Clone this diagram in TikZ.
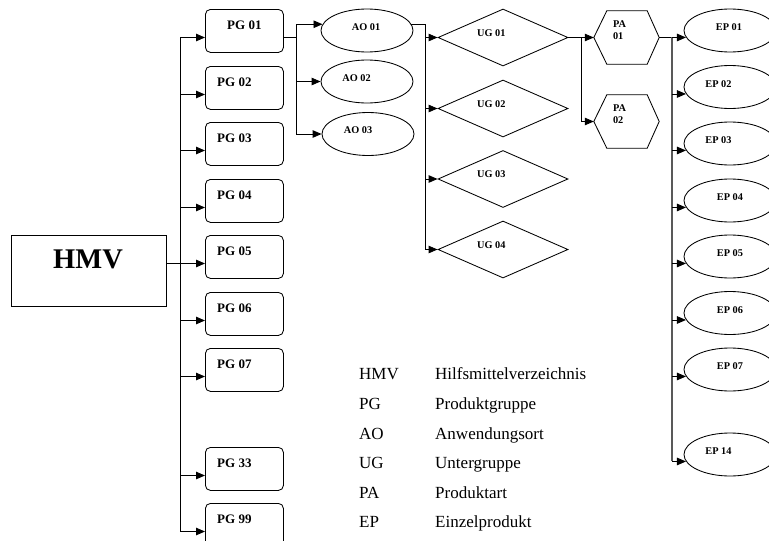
\documentclass[tikz,border=0pt]{standalone}
\usepackage{fontspec}
\setmainfont{Liberation Serif}
\usetikzlibrary{arrows.meta,calc,shapes.geometric}
\begin{document}
\begin{tikzpicture}[x=1pt,y=-1pt,
  line/.style={draw=black,line width=0.85pt},
  arr/.style={line,-{Triangle[length=9pt,width=7.5pt]}},
  pgbox/.style={draw,line width=0.85pt,rounded corners=5pt,minimum width=78pt,minimum height=43pt,inner sep=0pt,anchor=north west},
  oval/.style={draw,ellipse,line width=0.85pt,minimum width=92pt,minimum height=43pt,inner sep=0pt},
  ugdia/.style={draw,diamond,line width=0.85pt,minimum width=130pt,minimum height=57pt,inner sep=0pt},
  hexbox/.style={minimum width=65pt,minimum height=53pt,inner sep=0pt},
  pglab/.style={font=\fontsize{13}{15}\selectfont\bfseries,inner sep=0pt},
  smlab/.style={font=\fontsize{10.3}{11.3}\selectfont\bfseries,inner sep=0pt},
  leg/.style={font=\fontsize{17}{20}\selectfont,inner sep=0pt,anchor=base west},
]
\clip (0,0) rectangle (769,541);

% HMV
\node[draw,line width=0.85pt,minimum width=155pt,minimum height=71pt,inner sep=0pt,anchor=north west] (hmv) at (11,235) {};
\node[font=\fontsize{28.5}{30}\selectfont\bfseries,inner sep=0pt,anchor=base] (hmvt) at (88,268.3) {HMV};

% PG boxes
\foreach \i/\t/\top/\dx in {1/01/9/22,2/02/66/12,3/03/122/12,4/04/179/12,5/05/235/12,6/06/292/12,7/07/348/12,8/33/447/12,9/99/503/12}{
  \node[pgbox] (pg\i) at (205,\top) {};
  \coordinate (pgin\i) at ($(pg\i.north west)+(0,28.5)$);
  \node[pglab,anchor=base west] (pgl\i) at ($(pg\i.north west)+(\dx,20)$) {PG \t};
}
\coordinate (trunk) at (180,0);
\draw[line] (pgin1 -| trunk) -- (pgin9 -| trunk);
\foreach \i in {1,...,9}{
  \draw[arr] (pgin\i -| trunk) -- (pgin\i);
}
\draw[line] (hmv.east |- pgin5) -- (pgin5 -| trunk);

% AO
\node[oval] (ao1) at (367,30.5) {};
\node[oval] (ao2) at (367,81.5) {};
\node[oval] (ao3) at (368,134) {};
\node[smlab,anchor=base] (aol1) at (366,30) {AO 01};
\node[smlab,anchor=base] (aol2) at (356.5,81.7) {AO 02};
\node[smlab,anchor=base] (aol3) at (358,133.3) {AO 03};
\coordinate (aobus) at (296,0);
\draw[line] (pgin1 -| pg1.east) -- (pgin1 -| aobus);
\draw[line] (aobus |- ao1.172) -- (aobus |- ao3.west);
\draw[arr] (aobus |- ao1.172) -- (ao1.172);
\draw[arr] (aobus |- ao2.west) -- (ao2.west);
\draw[arr] (aobus |- ao3.west) -- (ao3.west);

% UG
\node[ugdia] (ug1) at (503,37.5) {};
\node[ugdia] (ug2) at (503,108.5) {};
\node[ugdia] (ug3) at (503,179) {};
\node[ugdia] (ug4) at (503,249.5) {};
\foreach \i in {1,...,4}{
  \node[smlab,anchor=base west] (ugl\i) at ($(ug\i.center)+(-26,-1.5)$) {UG 0\i};
}
\coordinate (ugbus) at (425,0);
\draw[line] (ao1.8) -- (ao1.8 -| ugbus) -- (ugbus |- ug4.west);
\foreach \i in {1,...,4}{
  \draw[arr] (ugbus |- ug\i.west) -- (ug\i.west);
}

% PA
\node[hexbox] (pa1) at (626.5,37.5) {};
\node[hexbox] (pa2) at (626.5,121.5) {};
\foreach \i in {1,2}{
  \draw[line] (pa\i.west) -- ($(pa\i.north west)+(13,0)$) -- ($(pa\i.north east)+(-12,0)$) -- (pa\i.east) -- ($(pa\i.south east)+(-12,0)$) -- ($(pa\i.south west)+(13,0)$) -- cycle;
  \node[smlab,anchor=base west] (pal\i) at ($(pa\i.west)+(19,-10)$) {PA};
  \node[smlab,anchor=base west] (pan\i) at ($(pa\i.west)+(19,1.5)$) {0\i};
}
\coordinate (pabus) at (581,0);
\draw[line] (ug1.east) -- (ug1.east -| pabus) -- (pabus |- pa2.west);
\draw[arr] (pabus |- pa1.west) -- (pa1.west);
\draw[arr] (pabus |- pa2.west) -- (pa2.west);

% EP
\foreach \i/\t/\cy/\lx in {1/01/30.5/729,2/02/87/718.5,3/03/143.5/718.5,4/04/200.5/730,5/05/256.5/730,6/06/313/730,7/07/369.5/730,8/14/454.5/718.5}{
  \node[oval] (ep\i) at (730,\cy) {};
  \node[smlab,anchor=base] (epl\i) at (\lx,\cy) {EP \t};
}
\coordinate (epbus) at (672,0);
\draw[line] (pa1.east) -- (pa1.east -| epbus);
\draw[line,draw=black!65,line width=1.2pt] (epbus |- ep1.189) -- (epbus |- ep8.189);
\foreach \i in {1,...,8}{
  \draw[arr] (epbus |- ep\i.189) -- (ep\i.189);
}

% Legend
\foreach \i/\a/\d/\by in {1/HMV/Hilfsmittelverzeichnis/379,2/PG/Produktgruppe/409.5,3/AO/Anwendungsort/439.3,4/UG/Untergruppe/468.5,5/PA/Produktart/498.3,6/EP/Einzelprodukt/527.5}{
  \node[leg] (lga\i) at (359,\by) {\a};
  \node[leg] (lgd\i) at (435,\by) {\d};
}
\end{tikzpicture}
\end{document}
